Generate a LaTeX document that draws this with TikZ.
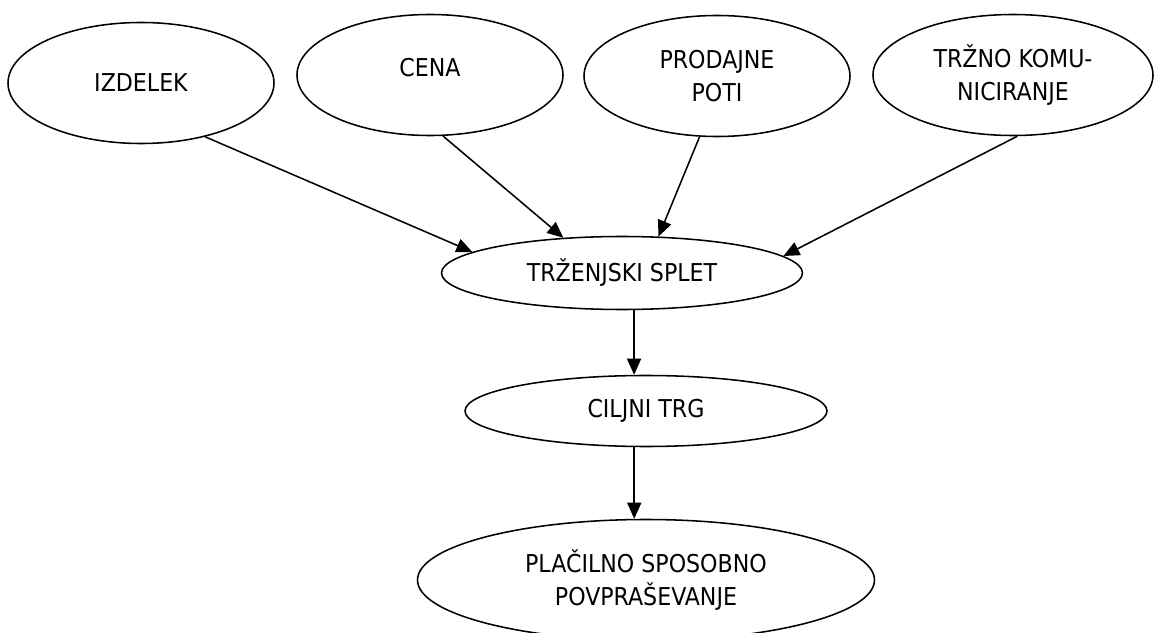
\documentclass[tikz,border=0pt]{standalone}
\usepackage{fontspec}
\setmainfont{DejaVu Sans Condensed}
\usetikzlibrary{shapes.geometric,arrows.meta,positioning}

\begin{document}
\begin{tikzpicture}[
    oval/.style={ellipse, draw=black, line width=1.1pt, inner sep=0pt,
        minimum width=6.65cm, minimum height=3.025cm, align=center,
        font=\fontsize{17.5}{23.5}\selectfont},
    arr/.style={-{Triangle[length=0.4cm, width=0.35cm]}, line width=1.1pt}
]
    \useasboundingbox (0,0) rectangle (28.85,-15.825);
    % top row
    \node[oval] (izdelek) at (3.525,-2.075) {IZDELEK};
    \node[oval, text depth=11pt] (cena) at (10.75,-1.875) {CENA};
    \node[oval] (poti) at (17.925,-1.9) {PRODAJNE\\POTI};
    \node[oval, minimum width=7cm] (komun) at (25.325,-1.875) {TRŽNO KOMU-\\NICIRANJE};
    % middle column
    \node[oval, minimum width=9.025cm, minimum height=1.825cm] (splet) at (15.55,-6.825) {TRŽENJSKI SPLET};
    \node[oval, minimum width=9.05cm, minimum height=1.775cm] (trg) at (16.15,-10.275) {CILJNI TRG};
    \node[oval, minimum width=11.425cm] (povp) at (16.15,-14.5) {PLAČILNO SPOSOBNO\\POVPRAŠEVANJE};

    \draw[arr] (izdelek.-40) -- (splet.172);
    \draw[arr] (cena.-78) -- (splet.149);
    \draw[arr] (poti.-106) -- (splet.45);
    \draw[arr] (komun.-86) -- (splet.6);
    \draw[arr] (splet.-72) -- (splet.-72 |- trg.north);
    \draw[arr] (trg.-108) -- (trg.-108 |- povp.north);
\end{tikzpicture}
\end{document}
